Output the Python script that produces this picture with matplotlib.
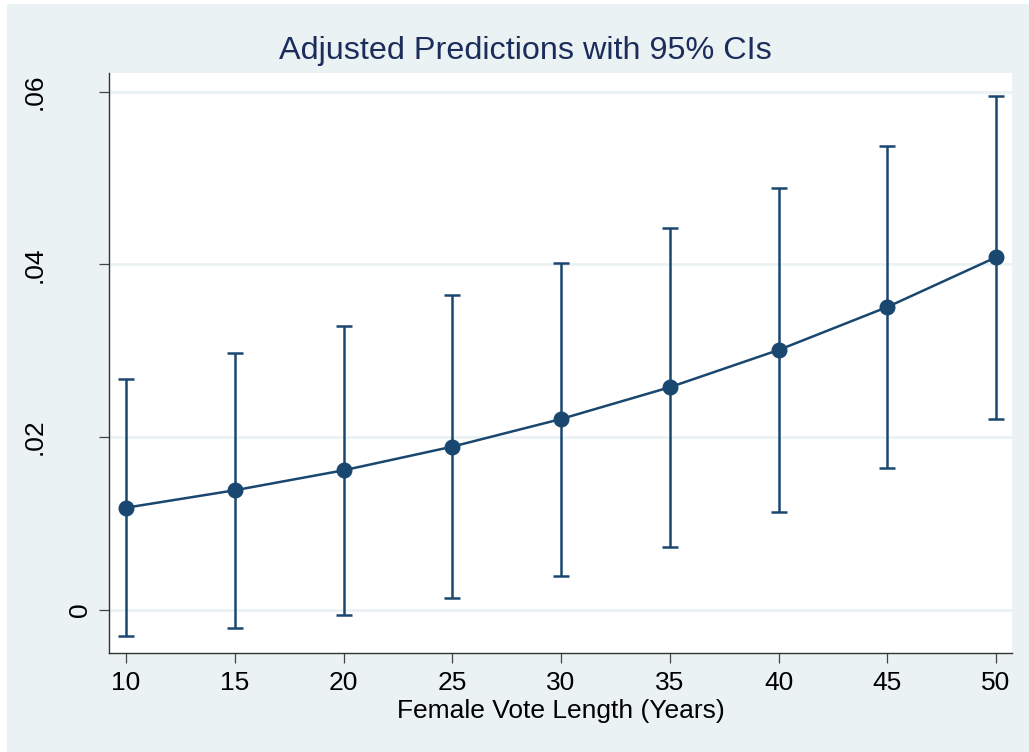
import matplotlib
matplotlib.use("Agg")
import matplotlib.pyplot as plt
import matplotlib.transforms as mtransforms
from matplotlib.patches import Rectangle

# Predictive margins by years since female suffrage
years = [10, 15, 20, 25, 30, 35, 40, 45, 50]
margin = [0.01181, 0.01383, 0.01614, 0.01888, 0.02208, 0.02576, 0.03007, 0.03505, 0.04081]
ci_low = [-0.00308, -0.00208, -0.00065, 0.00135, 0.00394, 0.00726, 0.01130, 0.01640, 0.02208]
ci_high = [0.02668, 0.02973, 0.03285, 0.03644, 0.04015, 0.04419, 0.04883, 0.05373, 0.05952]

xticks = [10, 15, 20, 25, 30, 35, 40, 45, 50]
yticks = [0, 0.02, 0.04, 0.06]
ytick_labels = ["0", ".02", ".04", ".06"]

title = "Adjusted Predictions with 95% CIs"
xlabel = "Female Vote Length (Years)"

navy = "#1A476F"
bg = "#EAF2F3"
W, H = 1029, 752

plt.rcParams["font.family"] = ["Liberation Sans", "DejaVu Sans"]

fig = plt.figure(figsize=(W / 100, H / 100), dpi=100, facecolor="white")
# graph region
fig.patches.append(Rectangle((7 / W, 0), 1 - 7 / W, 1 - 4 / H,
                             transform=fig.transFigure, facecolor=bg,
                             edgecolor="none", zorder=-10))

ax = fig.add_axes([109.3 / W, 1 - 652.7 / H, (1012.3 - 109.3) / W, (652.7 - 73) / H])
ax.set_facecolor("white")

yerr = [[m - lo for m, lo in zip(margin, ci_low)],
        [hi - m for m, hi in zip(margin, ci_high)]]
ax.errorbar(years, margin, yerr=yerr, fmt="none", ecolor=navy,
            elinewidth=1.8, capsize=5.5, capthick=1.8, zorder=3)
ax.plot(years, margin, color=navy, lw=1.8, marker="o", markersize=10.5,
        markerfacecolor=navy, markeredgecolor=navy, zorder=4)

ax.set_xlim(9.23, 50.75)
ax.set_ylim(-0.00498, 0.06215)

for y in yticks:
    ax.axhline(y, color=bg, lw=2, zorder=1)

ax.set_xticks(xticks)
ax.set_xticklabels([str(x) for x in xticks])
ax.set_yticks(yticks)
ax.set_yticklabels([])

for side in ("top", "right"):
    ax.spines[side].set_visible(False)
for side in ("left", "bottom"):
    ax.spines[side].set_color("#333333")
    ax.spines[side].set_linewidth(1.0)

ax.tick_params(axis="both", direction="out", length=7.2, width=0.9,
               color="#444444", labelsize=19, labelcolor="black", pad=6.0)

# rotated y tick labels
trans = mtransforms.blended_transform_factory(fig.transFigure, ax.transData)
for y, lab in zip(yticks, ytick_labels):
    xpx = 79.5 if lab == "0" else 35
    ax.text(xpx / W, y, lab, transform=trans, rotation=90, ha="center",
            va="center", fontsize=19, color="black", clip_on=False)

ax.set_xlabel(xlabel, fontsize=19, color="black", labelpad=2.5)

fig.text(525 / W, 1 - 51 / H, title, ha="center", va="center",
         fontsize=23.3, color="#1C2D5B")

fig.savefig("out.png", dpi=100, facecolor=fig.get_facecolor())
